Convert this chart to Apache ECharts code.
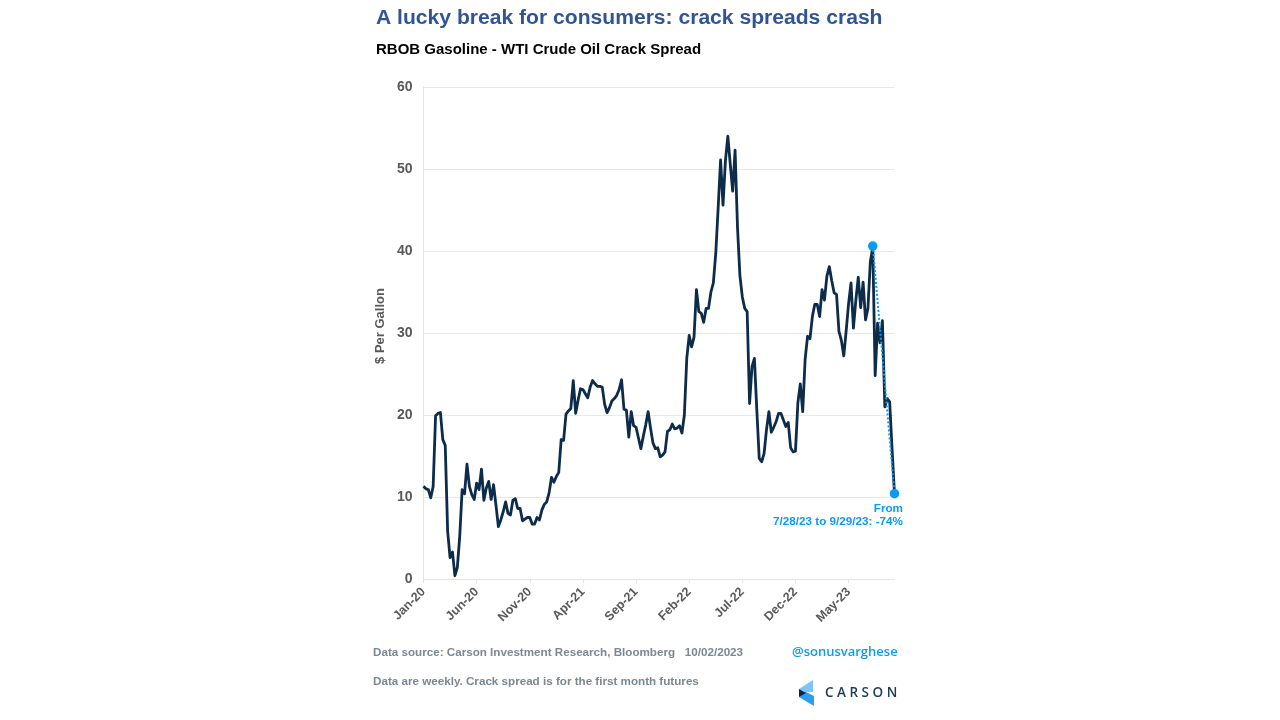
<!DOCTYPE html>
<html>
<head>
<meta charset="utf-8">
<style>
html,body{margin:0;padding:0;background:#fff;}
#chart{width:1280px;height:720px;}
</style>
<script src="https://cdn.jsdelivr.net/npm/echarts@6/dist/echarts.min.js"></script>
</head>
<body>
<div id="chart"></div>
<script>
var startDate=new Date(2020,0,3);
var monthNames=['Jan','Feb','Mar','Apr','May','Jun','Jul','Aug','Sep','Oct','Nov','Dec'];
var crackValues=[
	11.3,11.0,10.9,9.9,11.3,19.9,20.2,20.3,17.0,16.3,
	5.8,2.6,3.3,0.4,1.4,5.2,10.9,10.4,14.0,11.3,
	10.3,9.7,11.7,10.9,13.4,9.6,11.1,11.9,9.7,11.5,
	9.0,6.4,7.2,8.2,9.4,8.0,7.8,9.6,9.8,8.6,
	8.6,7.1,7.3,7.5,7.5,6.7,6.7,7.5,7.2,8.4,
	9.1,9.4,10.5,12.4,11.8,12.5,13.0,17.0,16.9,20.1,
	20.5,20.8,24.2,20.2,21.8,23.2,23.1,22.6,22.1,23.4,
	24.2,23.8,23.5,23.5,23.4,21.3,20.3,20.9,21.7,22.0,
	22.4,23.1,24.3,20.7,20.6,17.3,20.4,18.7,18.5,17.2,
	15.9,17.4,18.8,20.4,18.4,16.6,15.9,16.0,14.9,15.1,
	15.5,18.0,18.2,18.9,18.3,18.4,18.7,17.8,20.0,26.9,
	29.7,28.3,29.5,35.3,32.6,32.4,31.3,33.0,33.0,35.0,
	36.1,39.7,45.3,51.1,45.6,51.0,54.0,50.6,47.3,52.3,
	42.9,37.0,34.4,33.0,32.6,21.4,25.9,26.9,20.6,14.7,
	14.3,15.3,18.2,20.4,17.9,18.5,19.2,20.2,20.2,19.4,
	18.6,19.1,16.0,15.5,15.6,21.5,23.8,20.4,26.8,29.6,
	29.3,32.0,33.5,33.5,32.0,35.3,34.0,36.9,38.1,36.4,
	34.9,34.7,30.2,29.1,27.2,30.3,33.6,36.1,30.6,34.0,
	36.8,33.1,36.2,31.6,33.0,38.7,40.5,24.8,31.2,28.8,
	31.5,21.0,22.0,21.6,15.8,10.4
];
var dropIndex=[186,195];
var dropValues=[40.6,10.4];
var yTicks=[0,10,20,30,40,50,60];

// weekly labels, only every 22nd one is shown
var categories=[];
for(var i=0;i<crackValues.length;i++){
	var d=new Date(startDate.getTime());
	d.setDate(d.getDate()+i*7);
	categories.push(monthNames[d.getMonth()]+'-'+String(d.getFullYear()).slice(2));
}
var dropSeries=[];
for(var i=0;i<crackValues.length;i++){
	var k=dropIndex.indexOf(i);
	dropSeries.push(k>=0?dropValues[k]:null);
}

var font='"Liberation Sans",Arial,sans-serif';
var blue='#0a9cf5';
var grey='#7a8894';

function label(x,y,text,size,color,align,family,weight){
	return {type:'text',left:align=='right'?null:x,right:align=='right'?1280-x:null,top:y,
		style:{text:text,font:(weight||'bold')+' '+size+'px '+(family||font),fill:color}};
}

var myChart=echarts.init(document.getElementById('chart'),null,{renderer:'canvas'});
var option={
	backgroundColor:'#ffffff',
	animation:false,
	grid:{left:423.5,right:385.5,top:87,bottom:141,containLabel:false},
	xAxis:{
		type:'category',
		data:categories,
		boundaryGap:false,
		axisLine:{lineStyle:{color:'#e3e3e3',width:1}},
		axisTick:{show:true,interval:21,length:4,lineStyle:{color:'#e3e3e3'}},
		splitLine:{show:false},
		axisLabel:{interval:21,rotate:45,margin:11,color:'#595959',fontFamily:font,fontWeight:'bold',fontSize:12.5}
	},
	yAxis:{
		type:'value',
		min:yTicks[0],
		max:yTicks[yTicks.length-1],
		interval:10,
		name:'$ Per Gallon',
		nameLocation:'middle',
		nameGap:37,
		nameRotate:90,
		nameTextStyle:{color:'#595959',fontFamily:font,fontWeight:'bold',fontSize:13,padding:[0,0,0,14]},
		axisLine:{show:true,lineStyle:{color:'#e3e3e3',width:1}},
		axisTick:{show:false},
		splitLine:{lineStyle:{color:'#e8e8e8',width:1}},
		axisLabel:{margin:11,color:'#595959',fontFamily:font,fontWeight:'bold',fontSize:14}
	},
	series:[
		{
			type:'line',
			data:crackValues,
			symbol:'none',
			smooth:false,
			lineStyle:{color:'#0c2c4a',width:2.8,join:'round'},
			z:2
		},
		{
			type:'line',
			data:dropSeries,
			connectNulls:true,
			symbol:'circle',
			symbolSize:9.5,
			showSymbol:true,
			showAllSymbol:true,
			itemStyle:{color:blue},
			lineStyle:{color:blue,width:2,type:[2,2]},
			z:3
		}
	],
	graphic:[
		label(376,8,'A lucky break for consumers: crack spreads crash',21.1,'#2f5597'),
		label(376,42,'RBOB Gasoline - WTI Crude Oil Crack Spread',15,'#000000'),
		label(903,503,'From',11.7,blue,'right'),
		label(903,516,'7/28/23 to 9/29/23: -74%',11.7,blue,'right'),
		label(373,647,'Data source: Carson Investment Research, Bloomberg   10/02/2023',11.65,grey),
		label(373,676,'Data are weekly. Crack spread is for the first month futures',11.65,grey),
		label(792,646,'@sonusvarghese',13,blue,'left','"Open Sans",sans-serif','600'),
		label(825,686,'C A R S O N',13.5,'#1d3a57','left','"Open Sans",sans-serif','600'),
		// logo mark
		{type:'polygon',shape:{points:[[813,680],[813,692],[804,692],[799,689]]},style:{fill:'#7cc4fb'}},
		{type:'polygon',shape:{points:[[799,692],[806,692],[814,696],[814,706],[799,697]]},style:{fill:'#2a9df4'}},
		{type:'polygon',shape:{points:[[799,689],[806,693],[799,697]]},style:{fill:'#12263a'}}
	]
};
myChart.setOption(option);
</script>
</body>
</html>
